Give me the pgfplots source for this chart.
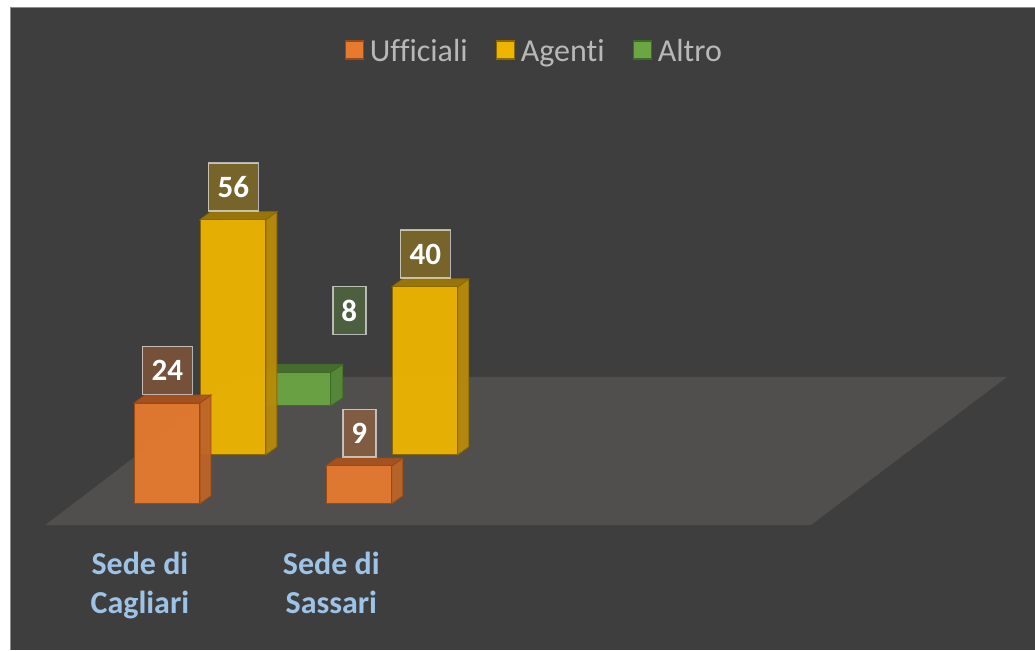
\documentclass[border=0pt]{standalone}
\usepackage{pgfplots}
\pgfplotsset{compat=1.18}
\usepackage{fontspec}
\setmainfont[Ligatures=CommonOff]{Carlito}
\definecolor{bg}{HTML}{3E3E3E}
\definecolor{catc}{HTML}{9DC3E6}
\definecolor{floorc}{HTML}{514F4E}
\definecolor{oF}{HTML}{E67A2E}
\definecolor{oS}{HTML}{BC6428}
\definecolor{oT}{HTML}{A9531F}
\definecolor{oD}{HTML}{9A4A14}
\definecolor{yF}{HTML}{EEB500}
\definecolor{yS}{HTML}{B98B0A}
\definecolor{yT}{HTML}{9C7808}
\definecolor{yD}{HTML}{8A6A00}
\definecolor{gF}{HTML}{6BA544}
\definecolor{gS}{HTML}{568B38}
\definecolor{gT}{HTML}{47702F}
\definecolor{gD}{HTML}{3E6B25}
\pgfplotsset{
  base/.style={width=1035pt,height=650pt,scale only axis,hide axis,xmin=0,xmax=1035,clip=false,
    /pgf/number format/assume math mode=true},
  bar3d/.style={ybar,bar width=65pt,bar shift=0pt,line width=1pt,fill opacity=.95},
  lab/.style n args={2}{nodes near coords,point meta=y,nodes near coords align={anchor=south},
    nodes near coords style={anchor=south,yshift=8pt,fill=#1,fill opacity=.32,text opacity=1,
      draw=white,draw opacity=.62,line width=1.5pt,text=white,font=\fontsize{31}{31}\selectfont\bfseries,
      minimum height=48pt,minimum width=#2,inner sep=0pt}},
  face/.style={line width=.8pt,no markers,fill opacity=.95},
}
\begin{document}
\begin{tikzpicture}
% base layer: pixel coordinates
\begin{axis}[base,ymin=0,ymax=650,
  legend style={at={(axis cs:533.5,599)},anchor=center,draw=none,fill=none,
    text=black!28,font=\fontsize{32}{32}\selectfont,legend columns=3,
    /tikz/column 1/.style={column sep=6pt},
    /tikz/column 2/.style={column sep=28pt},
    /tikz/column 3/.style={column sep=6pt},
    /tikz/column 4/.style={column sep=28pt},
    /tikz/column 5/.style={column sep=6pt},
    inner sep=0pt,outer sep=0pt,nodes={inner sep=0pt}},
  legend cell align=left,
  legend image code/.code={\draw[#1] (0pt,-8pt) rectangle (18pt,10pt);}]
  \fill[white] (axis cs:0,0) rectangle (axis cs:1035,650);
  \fill[bg] (axis cs:10.5,0) rectangle (axis cs:1035,642);
  \draw[black!45,line width=1pt] (axis cs:10.5,0) -- (axis cs:10.5,642) -- (axis cs:1035,642);
  \fill[floorc] (axis cs:45,124.5) -- (axis cs:811,124.5) -- (axis cs:1007.5,273) -- (axis cs:240,273) -- cycle;
  \addlegendimage{fill=oF,draw=oD,line width=1.2pt}
  \addlegendentry{Ufficiali}
  \addlegendimage{fill=yF,draw=yD,line width=1.2pt}
  \addlegendentry{Agenti}
  \addlegendimage{fill=gF,draw=gD,line width=1.2pt}
  \addlegendentry{Altro}
  \tikzset{cat/.style={anchor=base,inner sep=0pt,font=\fontsize{32}{32}\selectfont\bfseries,text=catc}}
  \node[cat] at (axis cs:140,75) {Sede di};
  \node[cat] at (axis cs:140,36) {Cagliari};
  \node[cat] at (axis cs:331.5,75) {Sede di};
  \node[cat] at (axis cs:331.5,36) {Sassari};
\end{axis}
% back row: Altro
\begin{axis}[base,ymin=-58.1,ymax=96.67]
  \addplot[face,fill=gS,draw=gD] coordinates {(331,0) (343,1.9) (343,9.9) (331,8)} -- cycle;
  \addplot[face,fill=gT,draw=gD] coordinates {(265,8) (277,9.9) (343,9.9) (331,8)} -- cycle;
  \addplot[bar3d,fill=gF,draw=gD,lab={gF}{33pt},nodes near coords style={xshift=51pt,yshift=29pt}] coordinates {(298.5,8)};
\end{axis}
% middle row: Agenti
\begin{axis}[base,ymin=-46.43,ymax=108.33]
  \addplot[face,fill=yS,draw=yD] coordinates {(266,0) (277,1.9) (277,57.9) (266,56)} -- cycle;
  \addplot[face,fill=yT,draw=yD] coordinates {(200,56) (211,57.9) (277,57.9) (266,56)} -- cycle;
  \addplot[bar3d,fill=yF,draw=yD,lab={yF}{50pt}] coordinates {(233.5,56)};
  \addplot[face,fill=yS,draw=yD] coordinates {(458,0) (469,1.9) (469,41.9) (458,40)} -- cycle;
  \addplot[face,fill=yT,draw=yD] coordinates {(392,40) (403,41.9) (469,41.9) (458,40)} -- cycle;
  \addplot[bar3d,fill=yF,draw=yD,lab={yF}{50pt}] coordinates {(425.5,40)};
\end{axis}
% front row: Ufficiali
\begin{axis}[base,ymin=-34.76,ymax=120]
  \addplot[face,fill=oS,draw=oD] coordinates {(200,0) (211,1.9) (211,25.9) (200,24)} -- cycle;
  \addplot[face,fill=oT,draw=oD] coordinates {(134,24) (145,25.9) (211,25.9) (200,24)} -- cycle;
  \addplot[bar3d,fill=oF,draw=oD,lab={oF}{50pt}] coordinates {(167.5,24)};
  \addplot[face,fill=oS,draw=oD] coordinates {(392,0) (403,1.9) (403,10.9) (392,9)} -- cycle;
  \addplot[face,fill=oT,draw=oD] coordinates {(326,9) (337,10.9) (403,10.9) (392,9)} -- cycle;
  \addplot[bar3d,fill=oF,draw=oD,lab={oF}{33pt}] coordinates {(359.5,9)};
\end{axis}
\end{tikzpicture}
\end{document}
